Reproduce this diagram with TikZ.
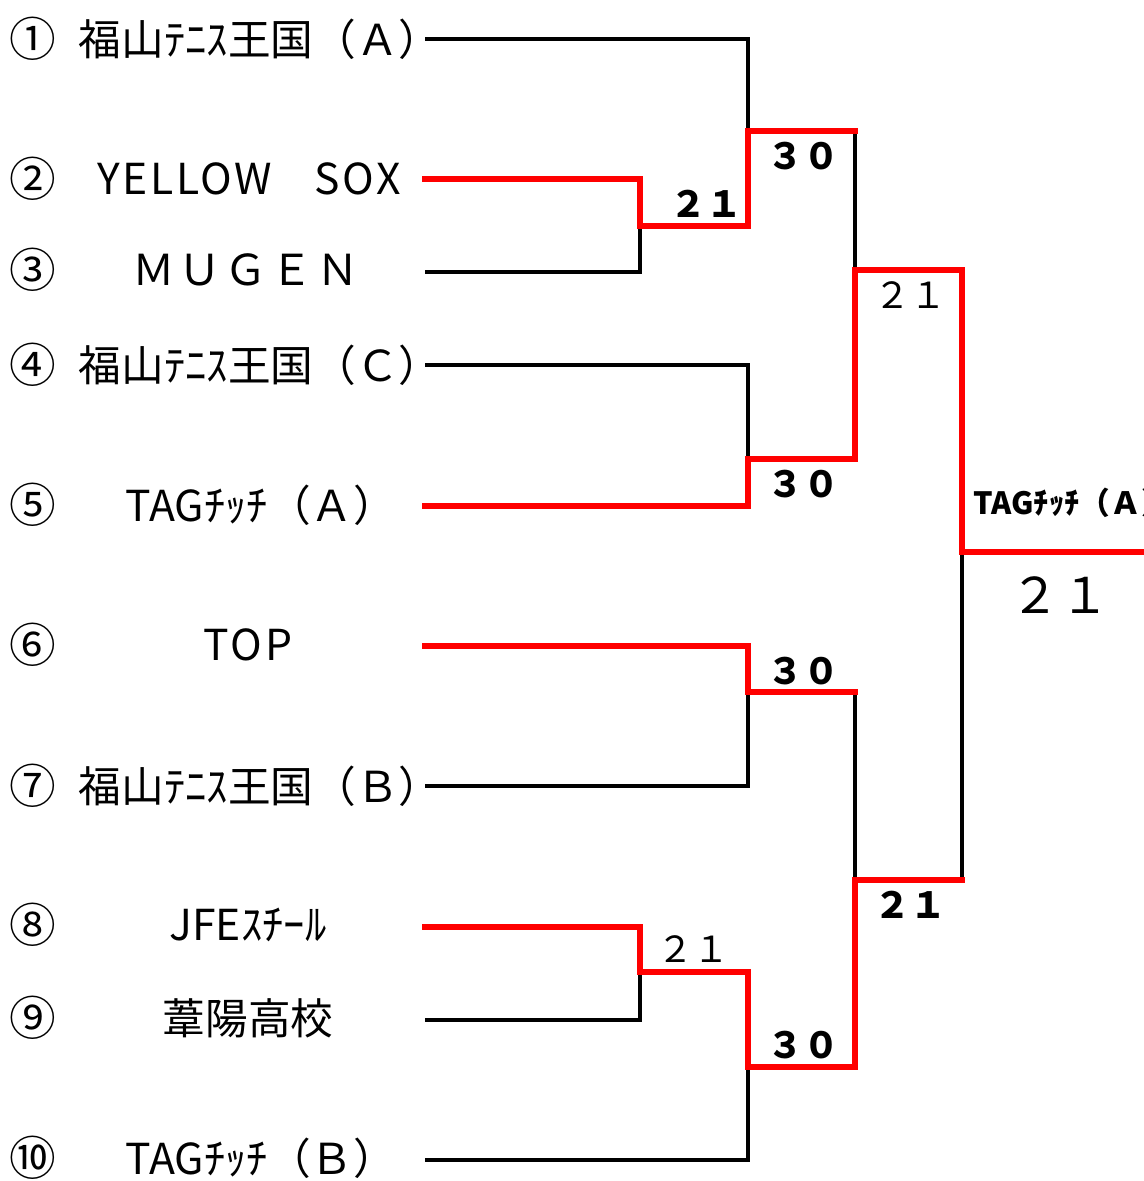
\documentclass[tikz,border=0pt]{standalone}
\usepackage{fontspec}
\setmainfont{Noto Sans CJK JP}
\newcommand{\wideltr}[1]{{\addfontfeature{LetterSpace=6}#1}}
\begin{document}
\begin{tikzpicture}[x=0.75pt,y=-0.75pt,
  blk/.style={line width=2.3pt,black,line join=miter},
  winline/.style={line width=4.5pt,red,line join=miter,line cap=rect},
  teamname/.style={inner sep=0pt,font=\fontsize{32}{32}\selectfont},
  seednum/.style={inner sep=0pt,font=\fontsize{35}{35}\selectfont},
  scoreb/.style={inner sep=0pt,font=\fontsize{27}{27}\selectfont\bfseries},
  scorer/.style={inner sep=0pt,font=\fontsize{27}{27}\selectfont}]
\useasboundingbox (0,0) rectangle (1143,1181);
% numbers
\node[seednum] (n1) at (33,39) {①};
\node[seednum] (n2) at (33,179) {②};
\node[seednum] (n3) at (33,270) {③};
\node[seednum] (n4) at (33,365) {④};
\node[seednum] (n5) at (33,505) {⑤};
\node[seednum] (n6) at (33,645) {⑥};
\node[seednum] (n7) at (33,786) {⑦};
\node[seednum] (n8) at (33,925) {⑧};
\node[seednum] (n9) at (33,1018) {⑨};
\node[seednum] (n10) at (33,1158) {⑩};
% team names
\node[teamname] (t1) at (260,39) {福山ﾃﾆｽ王国（Ａ）};
\node[teamname] (t2) at (249,179) {\wideltr{YELLOW}　\wideltr{SOX}};
\node[teamname] (t3) at (246,270) {Ｍ\hspace{0.08em}Ｕ\hspace{0.08em}Ｇ\hspace{0.08em}Ｅ\hspace{0.08em}Ｎ};
\node[teamname] (t4) at (260,365) {福山ﾃﾆｽ王国（Ｃ）};
\node[teamname] (t5) at (261,505) {TAGﾁｯﾁ（Ａ）};
\node[teamname] (t6) at (248,645) {\wideltr{TOP}};
\node[teamname] (t7) at (260,786) {福山ﾃﾆｽ王国（Ｂ）};
\node[teamname] (t8) at (248,925) {JFEｽﾁｰﾙ};
\node[teamname] (t9) at (248,1018) {葦陽高校};
\node[teamname] (t10) at (261,1158) {TAGﾁｯﾁ（Ｂ）};
% line starts
\coordinate (e1) at (425,39);
\coordinate (e2) at (425,179);
\coordinate (e3) at (425,272);
\coordinate (e4) at (425,365);
\coordinate (e5) at (425,506);
\coordinate (e6) at (425,646);
\coordinate (e7) at (425,786);
\coordinate (e8) at (425,927);
\coordinate (e9) at (425,1020);
\coordinate (e10) at (425,1160);
% joints
\coordinate (a1) at (640,226);
\coordinate (b1) at (748,131);
\coordinate (b2) at (748,459);
\coordinate (b3) at (748,692);
\coordinate (a2) at (640,972);
\coordinate (b4) at (748,1067);
\coordinate (c1) at (855,270);
\coordinate (c2) at (855,880);
\coordinate (d1) at (962,552);
\coordinate (fin) at (1143,552);
% black lines
\draw[blk] (e1) -- (e1 -| b1) -- (b1);
\draw[blk] (e3) -- (e3 -| a1) -- (a1);
\draw[blk] (e4) -- (e4 -| b2) -- (b2);
\draw[blk] (e7) -- (e7 -| b3) -- (b3);
\draw[blk] (e9) -- (e9 -| a2) -- (a2);
\draw[blk] (e10) -- (e10 -| b4) -- (b4);
\draw[blk] (b1 -| c1) -- (c1);
\draw[blk] (b3 -| c2) -- (c2);
\draw[blk] (d1) -- (c2 -| d1);
% red winner lines
\draw[winline] (e2) -- (e2 -| a1) -- (a1) -- (a1 -| b1) -- (b1) -- (b1 -| c1);
\draw[winline] (e5) -- (e5 -| b2) -- (b2) -- (b2 -| c1) -- (c1) -- (c1 -| d1) -- (d1) -- (fin);
\draw[winline] (e6) -- (e6 -| b3) -- (b3) -- (b3 -| c2);
\draw[winline] (e8) -- (e8 -| a2) -- (a2) -- (a2 -| b4) -- (b4) -- (b4 -| c2) -- (c2) -- (c2 -| d1);
% scores
\node[scoreb] (s1) at (706,204) {２１};
\node[scoreb] (s2) at (803,156) {３０};
\node[scorer] (s3) at (910,295) {２１};
\node[scoreb] (s4) at (803,484) {３０};
\node[scoreb] (s5) at (803,671) {３０};
\node[scoreb] (s6) at (910,905) {２１};
\node[scorer] (s7) at (693,949) {２１};
\node[scoreb] (s8) at (803,1045) {３０};
\node[inner sep=0pt,font=\fontsize{37}{37}\selectfont] (sf) at (1060,595) {２１};
\node[inner sep=0pt,anchor=west,font=\fontsize{23}{23}\selectfont\bfseries] (w) at (973,503) {TAGﾁｯﾁ（Ａ）};
\end{tikzpicture}
\end{document}
